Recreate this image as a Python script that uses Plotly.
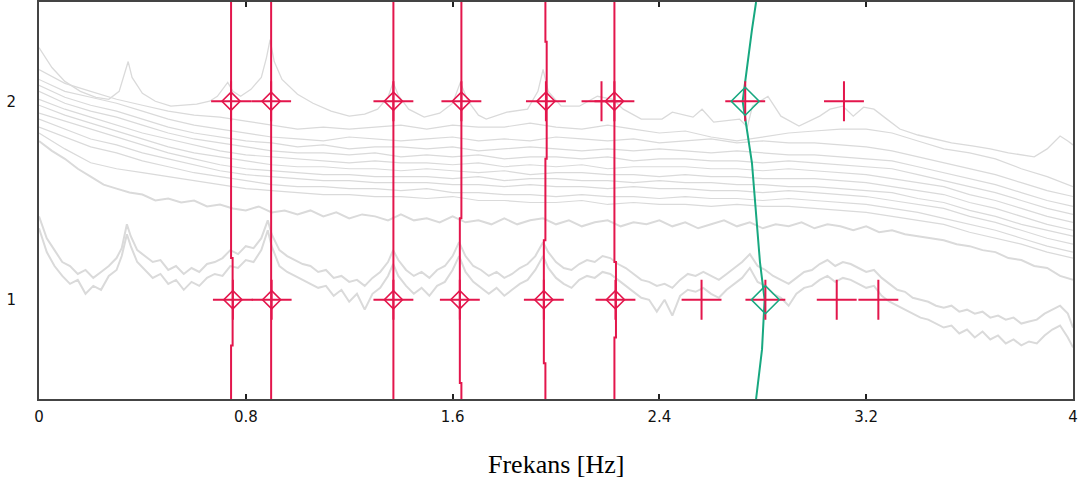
import plotly.graph_objects as go

# ---------------- data ----------------
GRID_F = [0.0, 0.1, 0.2, 0.3, 0.4, 0.5, 0.6, 0.7, 0.8, 0.9, 1.0, 1.1, 1.2, 1.3, 1.4, 1.5,
          1.6, 1.7, 1.8, 1.9, 2.0, 2.1, 2.2, 2.3, 2.4, 2.5, 2.6, 2.7, 2.8, 2.9, 3.0, 3.1,
          3.2, 3.3, 3.4, 3.5, 3.6, 3.7, 3.8, 3.9, 4.0]

SPEC_B = [2.16, 2.09, 2.05, 2.01, 1.98, 1.95, 1.93, 1.92, 1.90, 1.88, 1.86, 1.87, 1.86, 1.87, 1.88, 1.86,
          1.88, 1.87, 1.87, 1.89, 1.87, 1.86, 1.88, 1.86, 1.84, 1.85, 1.82, 1.80, 1.82, 1.84, 1.85, 1.86,
          1.86, 1.84, 1.80, 1.76, 1.74, 1.71, 1.66, 1.62, 1.57]
SPEC_C = [2.11, 2.05, 2.02, 1.99, 1.95, 1.91, 1.88, 1.86, 1.84, 1.82, 1.81, 1.80, 1.82, 1.81, 1.80, 1.81,
          1.82, 1.80, 1.81, 1.80, 1.82, 1.81, 1.80, 1.81, 1.79, 1.80, 1.81, 1.79, 1.80, 1.79, 1.79, 1.78,
          1.77, 1.75, 1.72, 1.69, 1.66, 1.63, 1.59, 1.55, 1.52]
SPEC_D = [2.08, 2.02, 1.98, 1.95, 1.91, 1.87, 1.84, 1.82, 1.80, 1.79, 1.77, 1.78, 1.76, 1.77, 1.77, 1.76,
          1.77, 1.75, 1.76, 1.77, 1.76, 1.75, 1.76, 1.75, 1.76, 1.75, 1.74, 1.75, 1.74, 1.73, 1.73, 1.72,
          1.71, 1.70, 1.67, 1.64, 1.61, 1.58, 1.54, 1.50, 1.47]
SPEC_E = [2.05, 1.99, 1.95, 1.92, 1.88, 1.84, 1.81, 1.79, 1.77, 1.75, 1.74, 1.74, 1.73, 1.74, 1.72, 1.73,
          1.72, 1.73, 1.71, 1.72, 1.72, 1.71, 1.72, 1.70, 1.71, 1.71, 1.70, 1.70, 1.69, 1.70, 1.69, 1.68,
          1.67, 1.66, 1.63, 1.60, 1.57, 1.54, 1.50, 1.46, 1.43]
SPEC_F = [2.01, 1.96, 1.92, 1.88, 1.84, 1.81, 1.78, 1.75, 1.73, 1.72, 1.71, 1.70, 1.69, 1.70, 1.69, 1.69,
          1.68, 1.69, 1.67, 1.68, 1.67, 1.68, 1.66, 1.67, 1.67, 1.67, 1.66, 1.66, 1.65, 1.66, 1.65, 1.64,
          1.63, 1.61, 1.59, 1.57, 1.53, 1.50, 1.46, 1.42, 1.39]
SPEC_G = [1.98, 1.93, 1.89, 1.85, 1.81, 1.77, 1.74, 1.72, 1.70, 1.68, 1.67, 1.67, 1.66, 1.66, 1.65, 1.66,
          1.65, 1.64, 1.65, 1.63, 1.64, 1.64, 1.63, 1.63, 1.62, 1.63, 1.62, 1.62, 1.61, 1.61, 1.61, 1.60,
          1.59, 1.57, 1.55, 1.53, 1.49, 1.46, 1.42, 1.38, 1.35]
SPEC_H = [1.94, 1.90, 1.86, 1.82, 1.78, 1.74, 1.71, 1.68, 1.66, 1.65, 1.64, 1.63, 1.63, 1.62, 1.62, 1.62,
          1.61, 1.62, 1.60, 1.61, 1.61, 1.60, 1.60, 1.59, 1.60, 1.59, 1.59, 1.58, 1.58, 1.57, 1.57, 1.56,
          1.55, 1.54, 1.51, 1.49, 1.45, 1.42, 1.38, 1.35, 1.32]
SPEC_I = [1.91, 1.86, 1.81, 1.78, 1.74, 1.71, 1.68, 1.65, 1.63, 1.62, 1.61, 1.60, 1.60, 1.59, 1.59, 1.59,
          1.58, 1.58, 1.57, 1.58, 1.57, 1.57, 1.56, 1.57, 1.56, 1.56, 1.55, 1.55, 1.54, 1.55, 1.54, 1.53,
          1.52, 1.50, 1.48, 1.46, 1.42, 1.39, 1.35, 1.31, 1.28]
SPEC_J = [1.87, 1.82, 1.77, 1.74, 1.70, 1.67, 1.64, 1.62, 1.60, 1.58, 1.57, 1.57, 1.56, 1.56, 1.55, 1.56,
          1.54, 1.54, 1.53, 1.53, 1.52, 1.53, 1.52, 1.52, 1.51, 1.52, 1.51, 1.51, 1.50, 1.51, 1.50, 1.49,
          1.48, 1.46, 1.44, 1.41, 1.38, 1.35, 1.31, 1.27, 1.24]
SPEC_K = [1.84, 1.76, 1.69, 1.66, 1.64, 1.62, 1.60, 1.58, 1.56, 1.55, 1.54, 1.53, 1.53, 1.52, 1.52, 1.51,
          1.52, 1.50, 1.50, 1.49, 1.49, 1.50, 1.48, 1.49, 1.48, 1.48, 1.47, 1.48, 1.47, 1.47, 1.46, 1.45,
          1.44, 1.42, 1.40, 1.38, 1.34, 1.31, 1.28, 1.24, 1.21]

FINE_F = [0.00, 0.05, 0.10, 0.15, 0.20, 0.25, 0.30, 0.35, 0.40, 0.45, 0.50, 0.55, 0.60, 0.65, 0.70, 0.75,
          0.80, 0.85, 0.90, 0.95, 1.00, 1.05, 1.10, 1.15, 1.20, 1.25, 1.30, 1.35, 1.40, 1.45, 1.50, 1.55,
          1.60, 1.65, 1.70, 1.75, 1.80, 1.85, 1.90, 1.95, 2.00, 2.05, 2.10, 2.15, 2.20, 2.25, 2.30, 2.35,
          2.40, 2.45, 2.50, 2.55, 2.60, 2.65, 2.70, 2.75, 2.80, 2.85, 2.90, 2.95, 3.00, 3.05, 3.10, 3.15,
          3.20, 3.25, 3.30, 3.35, 3.40, 3.45, 3.50, 3.55, 3.60, 3.65, 3.70, 3.75, 3.80, 3.85, 3.90, 3.95, 4.00]
SPEC_M = [1.80, 1.75, 1.71, 1.66, 1.62, 1.58, 1.56, 1.54, 1.53, 1.50, 1.51, 1.49, 1.50, 1.47, 1.48, 1.46,
          1.45, 1.47, 1.44, 1.45, 1.43, 1.45, 1.42, 1.44, 1.41, 1.43, 1.42, 1.40, 1.43, 1.40, 1.41, 1.39,
          1.42, 1.39, 1.40, 1.38, 1.41, 1.38, 1.40, 1.41, 1.38, 1.40, 1.37, 1.39, 1.40, 1.37, 1.39, 1.38,
          1.40, 1.37, 1.39, 1.36, 1.38, 1.40, 1.37, 1.39, 1.36, 1.38, 1.37, 1.39, 1.36, 1.38, 1.37, 1.35,
          1.37, 1.34, 1.35, 1.33, 1.32, 1.31, 1.30, 1.28, 1.27, 1.25, 1.24, 1.21, 1.20, 1.17, 1.16, 1.12, 1.10]

TOP_F = [0.00, 0.05, 0.10, 0.16, 0.22, 0.27, 0.31, 0.33, 0.345, 0.36, 0.40, 0.45, 0.51, 0.56, 0.61, 0.66,
         0.69, 0.73, 0.75, 0.78, 0.82, 0.86, 0.88, 0.894, 0.91, 0.94, 1.00, 1.06, 1.13, 1.20, 1.26, 1.31,
         1.35, 1.37, 1.39, 1.43, 1.49, 1.55, 1.60, 1.63, 1.66, 1.70, 1.73, 1.81, 1.89, 1.93, 1.95, 1.97,
         2.02, 2.09, 2.16, 2.22, 2.26, 2.33, 2.41, 2.45, 2.53, 2.565, 2.61, 2.71, 2.74, 2.76, 2.82, 2.87,
         2.94, 3.02, 3.06, 3.11, 3.15, 3.19, 3.23, 3.28, 3.33, 3.40, 3.46, 3.53, 3.61, 3.68, 3.75, 3.80,
         3.85, 3.90, 3.95, 3.98, 4.00]
SPEC_A = [2.27, 2.17, 2.10, 2.05, 2.02, 2.01, 2.05, 2.13, 2.20, 2.12, 2.04, 2.00, 1.975, 1.98, 1.985, 2.00,
          2.025, 2.095, 2.05, 2.025, 2.06, 2.12, 2.22, 2.31, 2.20, 2.11, 2.035, 1.99, 1.95, 1.925, 1.935, 1.96,
          2.02, 2.095, 2.03, 1.96, 1.92, 1.94, 1.99, 2.095, 2.00, 1.93, 1.91, 1.945, 1.96, 2.05, 2.16, 2.05,
          1.975, 1.975, 2.025, 2.01, 1.96, 1.91, 1.91, 1.945, 1.92, 1.96, 1.895, 1.91, 1.87, 1.975, 2.025, 1.925,
          1.875, 1.925, 1.96, 1.975, 1.925, 1.97, 1.96, 1.91, 1.86, 1.83, 1.81, 1.79, 1.775, 1.76, 1.74, 1.73,
          1.72, 1.76, 1.825, 1.80, 1.78]

LOW_F = [0.00, 0.03, 0.06, 0.09, 0.12, 0.15, 0.18, 0.21, 0.24, 0.27, 0.30, 0.32, 0.34, 0.355, 0.38, 0.41,
         0.44, 0.47, 0.50, 0.53, 0.56, 0.59, 0.62, 0.65, 0.68, 0.71, 0.74, 0.77, 0.80, 0.83, 0.86, 0.885,
         0.90, 0.93, 0.96, 0.99, 1.02, 1.05, 1.08, 1.11, 1.14, 1.17, 1.20, 1.23, 1.26, 1.29, 1.32, 1.35,
         1.37, 1.39, 1.42, 1.45, 1.48, 1.51, 1.54, 1.57, 1.60, 1.625, 1.65, 1.68, 1.71, 1.74, 1.77, 1.80,
         1.83, 1.86, 1.89, 1.92, 1.95, 1.97, 2.00, 2.03, 2.06, 2.09, 2.12, 2.15, 2.18, 2.21, 2.24, 2.27,
         2.30, 2.33, 2.36, 2.39, 2.42, 2.45, 2.48, 2.51, 2.54, 2.57, 2.60, 2.63, 2.66, 2.69, 2.72, 2.75,
         2.78, 2.81, 2.84, 2.87, 2.90, 2.93, 2.96, 2.99, 3.02, 3.05, 3.08, 3.11, 3.14, 3.17, 3.20, 3.23,
         3.26, 3.29, 3.32, 3.35, 3.38, 3.41, 3.44, 3.47, 3.50, 3.53, 3.56, 3.59, 3.62, 3.65, 3.68, 3.71,
         3.74, 3.77, 3.80, 3.83, 3.86, 3.89, 3.92, 3.95, 3.98, 4.00]
SPEC_L1 = [1.42, 1.31, 1.25, 1.19, 1.17, 1.13, 1.15, 1.11, 1.14, 1.17, 1.21, 1.26, 1.38, 1.32, 1.25, 1.22,
           1.19, 1.20, 1.15, 1.17, 1.13, 1.16, 1.14, 1.18, 1.19, 1.21, 1.25, 1.23, 1.27, 1.26, 1.31, 1.40,
           1.33, 1.25, 1.22, 1.20, 1.18, 1.17, 1.14, 1.15, 1.11, 1.12, 1.09, 1.10, 1.07, 1.11, 1.14, 1.19,
           1.25, 1.20, 1.15, 1.12, 1.14, 1.11, 1.15, 1.17, 1.22, 1.29, 1.22, 1.17, 1.15, 1.12, 1.14, 1.11,
           1.13, 1.16, 1.18, 1.22, 1.29, 1.24, 1.19, 1.16, 1.15, 1.18, 1.20, 1.19, 1.22, 1.21, 1.18, 1.16,
           1.13, 1.10, 1.09, 1.07, 1.08, 1.06, 1.10, 1.13, 1.12, 1.14, 1.12, 1.10, 1.13, 1.16, 1.19, 1.23,
           1.17, 1.15, 1.12, 1.10, 1.08, 1.11, 1.14, 1.15, 1.18, 1.20, 1.17, 1.19, 1.18, 1.16, 1.14, 1.15,
           1.11, 1.08, 1.05, 1.04, 1.01, 1.00, 0.99, 0.97, 0.96, 0.97, 0.94, 0.95, 0.93, 0.94, 0.91, 0.92,
           0.90, 0.91, 0.88, 0.89, 0.90, 0.93, 0.95, 0.97, 0.93, 0.86]
SPEC_L2 = [1.36, 1.24, 1.17, 1.12, 1.08, 1.10, 1.03, 1.07, 1.05, 1.12, 1.15, 1.22, 1.33, 1.27, 1.19, 1.15,
           1.11, 1.13, 1.08, 1.10, 1.05, 1.09, 1.07, 1.11, 1.13, 1.12, 1.17, 1.16, 1.20, 1.19, 1.25, 1.35,
           1.27, 1.17, 1.14, 1.12, 1.10, 1.08, 1.06, 1.07, 1.02, 1.05, 0.99, 1.03, 0.95, 1.03, 1.06, 1.12,
           1.18, 1.12, 1.07, 1.03, 1.06, 1.02, 1.07, 1.09, 1.15, 1.22, 1.14, 1.09, 1.06, 1.03, 1.06, 1.02,
           1.05, 1.08, 1.10, 1.15, 1.22, 1.16, 1.11, 1.08, 1.06, 1.10, 1.12, 1.11, 1.14, 1.13, 1.10, 1.07,
           1.04, 1.01, 1.00, 0.94, 1.00, 0.92, 1.02, 1.05, 1.04, 1.06, 1.03, 1.01, 1.05, 1.08, 1.11, 1.16,
           1.09, 1.07, 1.03, 1.01, 0.97, 1.03, 1.06, 1.07, 1.10, 1.12, 1.09, 1.11, 1.10, 1.08, 1.06, 1.07,
           1.02, 0.99, 0.97, 0.95, 0.93, 0.91, 0.90, 0.88, 0.86, 0.87, 0.83, 0.85, 0.81, 0.84, 0.80, 0.82,
           0.78, 0.80, 0.77, 0.79, 0.78, 0.82, 0.85, 0.87, 0.81, 0.76]

# identified modes: vertical tracking lines (frequency along the setup axis)
MODE_LINES = {
    "m1": ([0.743, 0.743, 0.749, 0.749, 0.743, 0.743], [2.5, 1.21, 1.21, 0.77, 0.77, 0.5]),
    "m2": ([0.898, 0.898], [2.5, 0.5]),
    "m3": ([1.371, 1.371], [2.5, 0.5]),
    "m4": ([1.634, 1.634, 1.628, 1.628, 1.634, 1.634], [2.5, 1.41, 1.41, 0.58, 0.58, 0.5]),
    "m5": ([1.959, 1.959, 1.964, 1.964, 1.959, 1.959, 1.953, 1.953, 1.959, 1.959],
           [2.5, 2.30, 2.30, 1.71, 1.71, 1.30, 1.30, 0.68, 0.68, 0.5]),
    "m6": ([2.226, 2.226, 2.232, 2.232, 2.226, 2.226], [2.5, 1.19, 1.19, 0.81, 0.81, 0.5]),
}
GREEN_F = [2.774, 2.758, 2.722, 2.758, 2.789, 2.807, 2.797, 2.774]
GREEN_Y = [2.5, 2.36, 2.0, 1.69, 1.19, 1.0, 0.75, 0.5]

# setup 2 / setup 1 peaks
S2_STABLE_F = [0.743, 0.898, 1.371, 1.634, 1.961, 2.226]
S2_CROSS_F = [2.176, 2.732, 3.114]
S2_GREEN_F = [2.732]
S1_STABLE_F = [0.750, 0.900, 1.371, 1.628, 1.953, 2.230]
S1_CROSS_F = [2.563, 2.810, 3.086, 3.247]
S1_GREEN_F = [2.810]

X_TICKS = [0, 0.8, 1.6, 2.4, 3.2, 4]
X_TICKTEXT = ["0", "0.8", "1.6", "2.4", "3.2", "4"]
Y_TICKS = [1, 2]

RED = "#E3164C"
GREEN = "#17A880"
GRAY = "#dadada"
TICK_FONT = dict(family="DejaVu Sans, Verdana", size=15, color="#111")

fig = go.Figure()

for spec in [SPEC_B, SPEC_C, SPEC_D, SPEC_E, SPEC_F, SPEC_G, SPEC_H, SPEC_I, SPEC_J, SPEC_K]:
    fig.add_trace(go.Scatter(x=GRID_F, y=spec, mode="lines",
                             line=dict(color=GRAY, width=1.2), hoverinfo="skip"))
fig.add_trace(go.Scatter(x=FINE_F, y=SPEC_M, mode="lines",
                         line=dict(color=GRAY, width=2), hoverinfo="skip"))
fig.add_trace(go.Scatter(x=TOP_F, y=SPEC_A, mode="lines",
                         line=dict(color=GRAY, width=1.3), hoverinfo="skip"))
for spec in [SPEC_L1, SPEC_L2]:
    fig.add_trace(go.Scatter(x=LOW_F, y=spec, mode="lines",
                             line=dict(color=GRAY, width=2), hoverinfo="skip"))

for name, (fx, fy) in MODE_LINES.items():
    fig.add_trace(go.Scatter(x=fx, y=fy, mode="lines", line=dict(color=RED, width=2),
                             hoverinfo="skip"))
fig.add_trace(go.Scatter(x=GREEN_F, y=GREEN_Y, mode="lines", line=dict(color=GREEN, width=2),
                         hoverinfo="skip"))

def add_markers(xs, yv, symbol, size, color, width):
    fig.add_trace(go.Scatter(x=xs, y=[yv] * len(xs), mode="markers",
                             marker=dict(symbol=symbol, size=size, color=color,
                                         line=dict(color=color, width=width)),
                             hoverinfo="skip"))

for yv, stable, cross, green in [(2, S2_STABLE_F, S2_CROSS_F, S2_GREEN_F),
                                  (1, S1_STABLE_F, S1_CROSS_F, S1_GREEN_F)]:
    add_markers(stable + cross, yv, "cross-thin", 28.5, RED, 2)
    add_markers(stable, yv, "diamond-open", 14, RED, 1.6)
    add_markers(green, yv, "diamond-open", 21.5, GREEN, 1.6)

fig.update_layout(
    width=1085, height=492,
    margin=dict(l=39, r=12, t=2, b=93),
    paper_bgcolor="white", plot_bgcolor="white",
    showlegend=False,
    font=TICK_FONT,
    annotations=[dict(text="Frekans [Hz]", x=0.5, y=-0.166, xref="paper", yref="paper",
                      xanchor="center", yanchor="middle", showarrow=False,
                      font=dict(family="Liberation Serif, Times New Roman", size=26, color="#000"))],
)
fig.update_xaxes(range=[0, 4], tickvals=X_TICKS, ticktext=X_TICKTEXT, tickfont=TICK_FONT,
                 ticks="inside", ticklen=5, tickwidth=2, tickcolor="#222",
                 showline=True, linecolor="#444", linewidth=2, mirror="ticks",
                 showgrid=False, zeroline=False, ticklabelstandoff=3,
                 automargin=False, ticklabeloverflow="allow")
fig.update_yaxes(range=[0.5, 2.5], tickvals=Y_TICKS, ticks="", tickfont=TICK_FONT,
                 showline=True, linecolor="#444", linewidth=2, mirror=True,
                 showgrid=False, zeroline=False, ticklabelstandoff=18, automargin=False)

fig.write_html("out.html", config={"displayModeBar": False},
               post_script="document.body.style.margin='0';document.body.style.padding='0';")
